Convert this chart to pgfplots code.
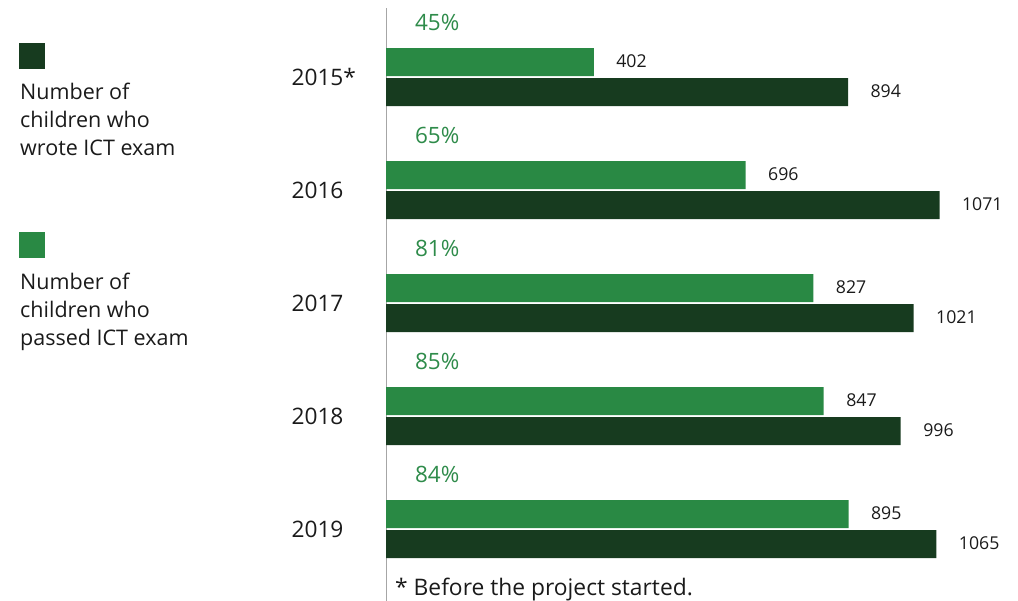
\documentclass[border=0pt]{standalone}
\usepackage{pgfplots}
\pgfplotsset{compat=1.18}
\usepackage{fontspec}
\setmainfont{Open Sans}
\definecolor{dk}{HTML}{173B1F}
\definecolor{lt}{HTML}{298944}
\definecolor{pc}{HTML}{2E8B4A}
\definecolor{tx}{HTML}{1A1A1A}
\begin{document}
\begin{tikzpicture}
\path[use as bounding box] (0pt,0pt) rectangle (1018pt,-601pt);
\begin{axis}[
 at={(386pt,-601pt)}, anchor=south west,
 scale only axis, width=632pt, height=593pt,
 xmin=0, xmax=1222.9,
 ymin=-0.637, ymax=4.611,
 axis x line=none,
 axis y line*=left,
 y axis line style={draw=black!35, line width=0.9pt, -},
 ytick={0,1,2,3,4},
 yticklabels={2019,2018,2017,2016,2015*},
 major tick length=0pt,
 yticklabel style={anchor=west, xshift=-98pt, font=\fontsize{22.7}{27}\selectfont, text=tx},
 xbar, bar width=28pt,
 nodes near coords, point meta=x,
 nodes near coords style={anchor=west, xshift=19pt, yshift=1pt, font=\fontsize{17.7}{21}\selectfont, text=tx},
 /pgf/number format/assume math mode=true,
 /pgf/number format/1000 sep={},
 clip=false,
]
\addplot[fill=lt, draw=none, bar shift=15pt] coordinates {(402,4) (696,3) (827,2) (847,1) (895,0)};
\addplot[fill=dk, draw=none, bar shift=-15pt] coordinates {(894,4) (1071,3) (1021,2) (996,1) (1065,0)};
\addplot[draw=none, fill=none, bar shift=0pt, point meta=explicit symbolic,
  nodes near coords={\pgfplotspointmeta},
  nodes near coords style={anchor=west, xshift=6.5pt, yshift=0pt, font=\fontsize{22.5}{27}\selectfont, text=pc}]
  coordinates {(0,4.475) [45\%] (0,3.475) [65\%] (0,2.475) [81\%] (0,1.475) [85\%] (0,0.475) [84\%]};
\end{axis}
% legend
\fill[dk] (19pt,-43pt) rectangle (45pt,-69pt);
\fill[lt] (19pt,-232pt) rectangle (45pt,-258pt);
\begin{scope}[every node/.style={anchor=base west, inner sep=0pt, font=\fontsize{21.5}{26}\selectfont, text=tx}]
\node at (20pt,-100pt) {Number of};
\node at (20pt,-128pt) {children who};
\node at (20pt,-156pt) {wrote ICT exam};
\node at (20pt,-290pt) {Number of};
\node at (20pt,-318pt) {children who};
\node at (20pt,-346pt) {passed ICT exam};
\node[font=\fontsize{22.8}{27}\selectfont] at (395pt,-595pt) {* Before the project started.};
\end{scope}
\end{tikzpicture}
\end{document}
